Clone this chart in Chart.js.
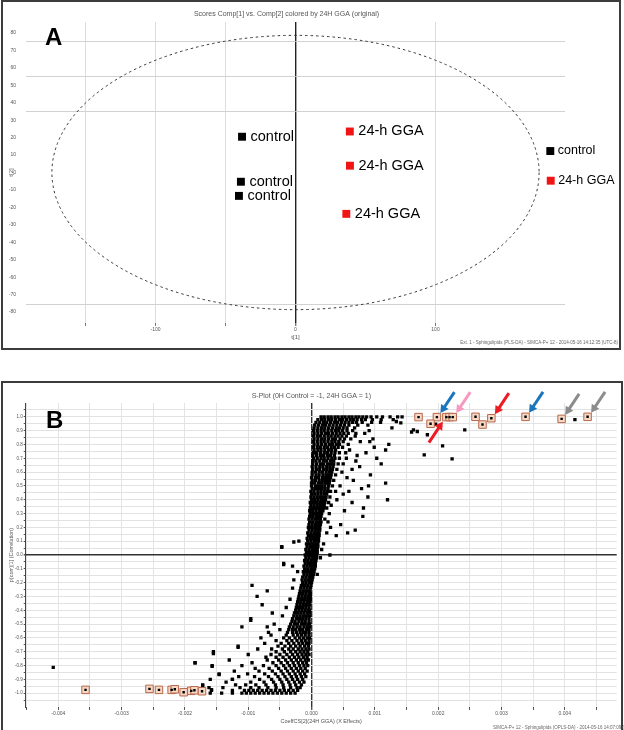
<!DOCTYPE html>
<html><head><meta charset="utf-8">
<script src="https://cdn.jsdelivr.net/npm/chart.js@4.4.1/dist/chart.umd.min.js"></script>
<style>
html,body{margin:0;padding:0;background:#fff;width:624px;height:730px;overflow:hidden;position:relative;}
.box{position:absolute;border:2px solid #3c3c3c;box-sizing:border-box;}
#boxA{left:1px;top:0px;width:620px;height:350px;}
#boxB{left:1px;top:381px;width:622px;height:370px;}
canvas{position:absolute;left:0;}
#cA{top:0;}
#cB{top:384px;}
</style></head>
<body>
<div class="box" id="boxA"></div>
<div class="box" id="boxB"></div>
<canvas id="cA" width="624" height="352"></canvas>
<canvas id="cB" width="624" height="346"></canvas>
<script>
// ---------------- Panel A data (scores plot) ----------------
const aTitle = 'Scores Comp[1] vs. Comp[2] colored by 24H GGA (original)';
const aGroups = ['control','control','control','control','24-h GGA','24-h GGA','24-h GGA','24-h GGA'];
const aT1 = [-38.2, -39.0, -40.4, 182.0, 38.8, 38.9, 36.3, 182.3];
const aT2 = [20.5, -5.3, -13.4, 12.3, 23.5, 3.9, -23.7, -4.7];
const aEllipseAxes = [174, 78.6];          // Hotelling T2 ellipse semi-axes (t[1], t[2])
const aRefLines = [75.5, 55.5, 35.5, -75.5];
const aXTicks = [-150, -100, -50, 0, 100];
const aXTickLabels = ['', '-100', '', '0', '100'];
const aYTicks = [-80,-70,-60,-50,-40,-30,-20,-10,0,10,20,30,40,50,60,70,80];
const aYTickLabels = ['-80','-70','-60','-50','-40','-30','-20','-10','0','10','20','30','40','50','60','70','80'];

// ---------------- Panel B data (S-plot), x in units of 1e-4 ----------------
const bTitle = 'S-Plot (0H Control = -1, 24H GGA = 1)';
const sPlotUpper = [
 [1.00,[1.5,2.0,2.6,3.1,3.7,4.2,4.8,5.3,5.9,6.4,7.0,7.5,8.1,8.7,9.4,10.3,11.2,12.4,13.6]],
 [0.98,[1.0,1.6,2.1,2.7,3.2,3.8,4.4,4.9,5.5,6.1,6.6,7.2,7.9,8.5,9.6,11.0,12.9]],
 [0.96,[0.7,1.3,1.9,2.4,3.0,3.6,4.1,4.7,5.3,5.9,6.5,7.1,8.0,9.5,10.9]],
 [0.94,[0.5,1.1,1.7,2.2,2.8,3.4,4.0,4.6,5.2,5.9,7.3,8.9]],
 [0.92,[0.4,1.0,1.6,2.1,2.7,3.3,3.9,4.4,5.0,5.6,6.8,12.7]],
 [0.90,[0.3,0.9,1.5,2.0,2.6,3.2,3.8,4.3,4.9,5.6,6.5,9.1]],
 [0.88,[0.4,1.0,1.6,2.2,2.7,3.3,3.9,4.5,5.1,5.8,7.0,8.4]],
 [0.86,[0.3,0.9,1.4,2.0,2.6,3.1,3.7,4.2,4.8,5.5,6.9]],
 [0.84,[0.4,1.0,1.6,2.1,2.7,3.3,3.8,4.5,5.2,6.2,9.7]],
 [0.82,[0.3,0.9,1.5,2.0,2.6,3.2,3.7,4.3,5.0,7.7,9.2]],
 [0.80,[0.4,1.0,1.6,2.2,2.8,3.3,3.9,4.4,5.8,12.2]],
 [0.78,[0.3,0.9,1.4,2.0,2.5,3.1,3.6,4.2,4.9,9.9]],
 [0.76,[0.4,1.0,1.5,2.1,2.7,3.2,3.8,6.0,11.7]],
 [0.74,[0.3,0.8,1.4,2.0,2.5,3.1,3.7,4.4,5.4,8.6]],
 [0.72,[0.2,0.8,1.4,1.9,2.5,3.0,3.6,7.2]],
 [0.70,[0.3,0.9,1.5,2.0,2.6,3.2,3.7,4.4,5.5,10.3]],
 [0.68,[0.2,0.7,1.3,1.9,2.4,3.0,3.5,7.0]],
 [0.66,[0.2,0.8,1.4,1.9,2.5,3.0,3.5,4.2,5.0,11.0]],
 [0.64,[0.1,0.7,1.3,1.8,2.4,2.9,3.4,7.6]],
 [0.62,[0.2,0.8,1.3,1.9,2.4,2.9,3.3,4.0,6.4]],
 [0.60,[0.1,0.6,1.2,1.7,2.3,2.8,3.2,4.8]],
 [0.58,[0.1,0.7,1.2,1.8,2.3,2.7,3.1,3.8,9.3]],
 [0.56,[0.0,0.6,1.1,1.7,2.2,2.7,3.0,5.6]],
 [0.54,[0.1,0.6,1.2,1.7,2.2,2.6,2.9,3.5,6.6]],
 [0.52,[0.0,0.5,1.1,1.6,2.1,2.5,2.8,11.7]],
 [0.50,[0.0,0.6,1.1,1.6,2.1,2.7,3.3,4.5,9.0]],
 [0.48,[0.1,0.6,1.1,1.6,2.1,2.6,7.9]],
 [0.46,[-0.1,0.4,1.0,1.5,2.0,2.5,3.0,3.8,5.9]],
 [0.44,[0.0,0.5,1.0,1.5,2.0,2.4,5.0]],
 [0.42,[-0.1,0.4,0.9,1.4,1.9,2.3,2.9,8.9]],
 [0.40,[0.0,0.5,1.0,1.5,1.9,2.2,4.0,12.0]],
 [0.38,[-0.2,0.3,0.8,1.3,1.7,2.1,2.7,6.4]],
 [0.36,[-0.1,0.4,0.9,1.4,1.8,2.0,3.1]],
 [0.34,[-0.2,0.3,0.8,1.2,1.6,1.9,2.4,8.2]],
 [0.32,[-0.3,0.2,0.7,1.2,1.5,1.8,5.2]],
 [0.30,[-0.2,0.3,0.8,1.2,1.6,2.8]],
 [0.28,[-0.3,0.2,0.7,1.1,1.5,8.1]],
 [0.26,[-0.4,0.1,0.6,1.0,1.4,2.1]],
 [0.24,[-0.3,0.2,0.7,1.1,1.5,2.6]],
 [0.22,[-0.4,0.1,0.6,1.0,1.4,4.6]],
 [0.20,[-0.5,0.0,0.5,0.9,1.3,3.0]],
 [0.18,[-0.4,0.1,0.6,1.0,1.3,6.9]],
 [0.16,[-0.6,-0.1,0.4,0.8,1.2,2.4,5.7]],
 [0.14,[-0.5,0.0,0.5,0.9,1.2,3.9]],
 [0.12,[-0.7,-0.2,0.3,0.7,1.1]],
 [0.10,[-0.6,-0.1,0.4,0.8,1.1,-2.0]],
 [0.08,[-0.8,-0.3,0.2,0.6,1.0,1.9]],
 [0.06,[-0.7,-0.2,0.3,0.7,1.0,-4.7]],
 [0.04,[-0.9,-0.4,0.1,0.5,0.9,1.6]],
 [0.02,[-0.8,-0.3,0.2,0.6,0.9]]
];
const sPlotLower = [
 [0.00,[-1.0,-0.5,0.0,0.4,0.8,2.9]],
 [-0.02,[-0.9,-0.4,0.1,0.5,0.8,1.4]],
 [-0.04,[-1.1,-0.6,-0.1,0.3,0.7]],
 [-0.06,[-1.0,-0.5,0.0,0.4,0.6,-4.4]],
 [-0.08,[-1.2,-0.7,-0.2,0.2,0.6,-3.0]],
 [-0.10,[-1.1,-0.6,-0.1,0.3,0.5]],
 [-0.12,[-1.3,-0.8,-0.3,0.1,0.4,-2.2]],
 [-0.14,[-1.2,-0.7,-0.2,0.2,0.3,0.9]],
 [-0.16,[-1.4,-0.9,-0.4,0.0,0.2]],
 [-0.18,[-1.5,-1.0,-0.5,-0.1,0.1,-2.8]],
 [-0.20,[-1.4,-0.9,-0.4,0.0]],
 [-0.22,[-1.6,-1.1,-0.6,-0.1,-9.4]],
 [-0.24,[-1.7,-1.2,-0.7,-0.2,-3.0]],
 [-0.26,[-1.8,-1.3,-0.8,-0.3,-7.0]],
 [-0.28,[-1.9,-1.4,-0.9,-0.4,-0.2]],
 [-0.30,[-2.0,-1.5,-1.0,-0.5,-0.2,-8.6]],
 [-0.32,[-2.1,-1.6,-1.1,-0.6,-0.2,-3.4]],
 [-0.34,[-2.2,-1.7,-1.2,-0.7,-0.3]],
 [-0.36,[-2.3,-1.8,-1.3,-0.8,-0.3,-7.8]],
 [-0.38,[-2.4,-1.9,-1.4,-0.9,-0.4,-4.0]],
 [-0.40,[-2.5,-2.0,-1.5,-1.0,-0.5,-0.3]],
 [-0.42,[-2.7,-2.2,-1.7,-1.2,-0.7,-0.3,-6.2]],
 [-0.44,[-2.8,-2.3,-1.8,-1.3,-0.8,-0.3,-4.6]],
 [-0.46,[-3.0,-2.4,-1.9,-1.4,-0.9,-0.4,-9.6]],
 [-0.48,[-3.1,-2.6,-2.0,-1.5,-1.0,-0.4]],
 [-0.50,[-3.3,-2.7,-2.2,-1.6,-1.1,-0.6,-0.3,-5.9]],
 [-0.52,[-3.5,-2.9,-2.3,-1.8,-1.2,-0.7,-0.3,-7.0,-11.0]],
 [-0.54,[-3.6,-3.0,-2.5,-1.9,-1.4,-0.8,-0.4,-5.0]],
 [-0.56,[-3.8,-3.0,-2.4,-1.8,-1.3,-0.9,-0.4,-6.8]],
 [-0.58,[-4.0,-2.9,-2.2,-1.6,-1.0,-0.4,-6.4]],
 [-0.60,[-4.4,-3.5,-2.6,-1.9,-1.3,-0.7,-0.3,-8.0]],
 [-0.62,[-3.9,-3.1,-2.3,-1.6,-1.0,-0.4,-5.6]],
 [-0.64,[-4.8,-3.6,-2.8,-2.0,-1.4,-0.8,-0.4,-7.4]],
 [-0.66,[-5.3,-4.2,-3.3,-2.5,-1.8,-1.1,-0.5,-11.6]],
 [-0.68,[-4.6,-3.6,-2.9,-2.1,-1.5,-0.9,-0.4,-8.5,-6.3]],
 [-0.70,[-5.6,-4.3,-3.3,-2.5,-1.8,-1.2,-0.6,-15.5]],
 [-0.72,[-6.4,-5.0,-3.9,-3.0,-2.2,-1.5,-0.9,-0.4,-10.0]],
 [-0.74,[-5.6,-4.5,-3.5,-2.7,-2.0,-1.3,-0.7,-7.2]],
 [-0.76,[-7.0,-5.2,-4.1,-3.2,-2.4,-1.7,-1.0,-0.5,-13.0]],
 [-0.78,[-6.1,-4.8,-3.8,-2.9,-2.1,-1.4,-0.8,-9.4,-18.4]],
 [-0.80,[-7.6,-5.6,-4.4,-3.5,-2.7,-1.9,-1.2,-0.6,-11.0,-15.7]],
 [-0.82,[-6.7,-5.2,-4.1,-3.2,-2.4,-1.7,-1.0,-8.9]],
 [-0.84,[-8.3,-6.2,-4.8,-3.8,-2.9,-2.1,-1.4,-0.7,-12.2]],
 [-0.86,[-7.4,-5.7,-4.5,-3.5,-2.6,-1.8,-1.1,-10.1,-14.6]],
 [-0.88,[-9.0,-6.8,-5.3,-4.2,-3.2,-2.4,-1.6,-0.9,-11.5]],
 [-0.90,[-8.2,-6.3,-5.0,-3.9,-3.0,-2.2,-1.4,-12.5,-16.0]],
 [-0.92,[-9.6,-7.5,-6.0,-4.7,-3.6,-2.7,-1.9,-1.2,-13.5]],
 [-0.94,[-10.4,-8.8,-7.2,-5.7,-4.5,-3.4,-2.5,-1.6,-12.0,-17.2]],
 [-0.96,[-11.3,-9.6,-8.3,-6.9,-5.6,-4.4,-3.3,-2.3,-1.8,-14.0,-16.2]],
 [-0.98,[-10.6,-9.9,-9.2,-8.5,-7.8,-7.1,-6.4,-5.7,-5.0,-4.3,-3.6,-2.9,-2.2,-12.5,-15.8,-17.5]],
 [-1.00,[-11.0,-10.3,-9.6,-8.9,-8.2,-7.5,-6.8,-6.1,-5.4,-4.7,-4.0,-3.3,-2.6,-12.5,-14.2,-16.0]]
];
const sPlotOutliers = [[16.1,0.906],[16.7,0.894],[17.8,0.725],[20.7,0.79],[22.2,0.696],[24.2,0.906],
 [19.6,0.947],[13.4,0.966],[14.1,0.956],[15.8,0.89],[18.3,0.87],[41.6,0.98],[14.3,1.0],
 [-40.8,-0.813],[-4.7,0.055],[-2.8,0.094],[-4.4,-0.07],[-9.6,-0.473],[-11.6,-0.668],[-15.5,-0.714],
 [-18.4,-0.78],[-15.7,-0.805],[-14.6,-0.866],[-12.5,-0.9],[-17.2,-0.943],[-15.8,-0.974]];
const sPlotMarked = [[16.9,0.998],[19.8,0.998],[18.8,0.95],[21.3,0.998],[21.8,0.998],[22.3,0.998],
 [25.9,1.0],[27.0,0.944],[28.4,0.99],[33.8,1.0],[39.5,0.985],[43.6,1.0],
 [-35.7,-0.976],[-25.6,-0.969],[-24.1,-0.976],[-22.1,-0.976],[-21.6,-0.972],[-20.2,-0.993],
 [-19.0,-0.983],[-18.5,-0.979],[-17.3,-0.986]];
const arrowTargets = [[19.8,0.998],[22.3,0.998],[21.3,0.998],[28.4,0.99],[33.8,1.0],[39.5,0.985],[43.6,1.0]];
const arrowColors = ['#1b75bc','#f49ac2','#ed1c24','#ed1c24','#1b75bc','#8c8c8c','#8c8c8c'];
const arrowFromBelow = [false,false,true,false,false,false,false];
const bXTicks = [-45,-40,-35,-30,-25,-20,-15,-10,-5,0,5,10,15,20,25,30,35,40,45];
const bXTickLabels = ['-0.004','-0.003','-0.002','-0.001','0.000','0.001','0.002','0.003','0.004'];
const bYTicks = [-1.05,-1,-0.95,-0.9,-0.85,-0.8,-0.75,-0.7,-0.65,-0.6,-0.55,-0.5,-0.45,-0.4,-0.35,-0.3,-0.25,-0.2,-0.15,-0.1,-0.05,0,
 0.05,0.1,0.15,0.2,0.25,0.3,0.35,0.4,0.45,0.5,0.55,0.6,0.65,0.7,0.75,0.8,0.85,0.9,0.95,1,1.05];
const bYTickLabels = ['1.0','0.9','0.8','0.7','0.6','0.5','0.4','0.3','0.2','0.1','0.0','-0.1','-0.2','-0.3','-0.4','-0.5','-0.6','-0.7','-0.8','-0.9','-1.0'];

const F = "'Liberation Sans', Arial, sans-serif";

// ---------------- Chart A ----------------
const ptsOf = g => aGroups.map((gg,i)=>gg===g?{x:aT1[i],y:aT2[i],label:gg}:null).filter(p=>p);
const panelAPlugin = {
  id:'panelA',
  beforeDatasetsDraw(chart){
    const {ctx, chartArea:ca, scales:{x,y}} = chart;
    ctx.save();
    ctx.strokeStyle = '#d2d2d2'; ctx.lineWidth = 1;
    aRefLines.forEach(v=>{ const py = Math.round(y.getPixelForValue(v))+0.5;
      ctx.beginPath(); ctx.moveTo(ca.left,py); ctx.lineTo(ca.right,py); ctx.stroke(); });
    const cx = x.getPixelForValue(0), cy = y.getPixelForValue(0);
    const rx = x.getPixelForValue(aEllipseAxes[0]) - cx, ry = cy - y.getPixelForValue(aEllipseAxes[1]);
    ctx.strokeStyle = '#333'; ctx.setLineDash([2.5,3]); ctx.lineWidth = 1;
    ctx.beginPath(); ctx.ellipse(cx, cy, rx, ry, 0, 0, Math.PI*2); ctx.stroke();
    ctx.restore();
  },
  afterDatasetsDraw(chart){
    const {ctx} = chart;
    ctx.save(); ctx.fillStyle = '#000'; ctx.textBaseline = 'middle'; ctx.textAlign='left';
    chart.data.datasets.forEach((ds,di)=>{
      chart.getDatasetMeta(di).data.forEach((el,i)=>{
        const p = ds.data[i];
        const outside = p.x > aEllipseAxes[0];
        ctx.font = (outside? '12.5px ' : '14.5px ') + F;
        ctx.fillText(p.label, el.x + (outside?7.5:8.5), el.y);
      });
    });
    ctx.font = 'bold 24px ' + F; ctx.textBaseline='alphabetic';
    ctx.fillText('A', 45, 45);
    ctx.font = '4.5px ' + F; ctx.fillStyle='#666'; ctx.textAlign='right';
    ctx.fillText('Ext. 1 - Sphingolipids (PLS-DA) - SIMCA-P+ 12 - 2014-05-16 14:12:35 (UTC-8)', 618, 344);
    ctx.restore();
  }
};
new Chart(document.getElementById('cA'), {
  type:'scatter',
  data:{datasets:[
    {label:'control', data:ptsOf('control'), pointStyle:'rect', radius:5.6, backgroundColor:'#000', borderWidth:0},
    {label:'24-h GGA', data:ptsOf('24-h GGA'), pointStyle:'rect', radius:5.6, backgroundColor:'#f01414', borderWidth:0}
  ]},
  options:{
    responsive:false, animation:false, events:[],
    layout:{padding:{left:8,right:59,top:0,bottom:7}},
    plugins:{legend:{display:false}, tooltip:{enabled:false},
      title:{display:true, text:aTitle, color:'#555', font:{family:F,size:7,weight:'normal'}, padding:{top:10,bottom:3.6}}},
    scales:{
      x:{type:'linear', min:-192.5, max:192.5,
        afterBuildTicks:s=>{ s.ticks = aXTicks.map(v=>({value:v})); },
        afterFit:s=>{ s.height = 22; },
        ticks:{autoSkip:false, maxRotation:0, padding:1, color:'#555', font:{family:F,size:5}, callback:(v,i)=>aXTickLabels[i]},
        grid:{color:c=>c.tick && c.tick.value===0 ? '#222' : '#dcdcdc', lineWidth:c=>c.tick && c.tick.value===0 ? 1.4 : 1, tickLength:3, tickColor:'#777'},
        border:{display:false},
        title:{display:true, text:'t[1]', color:'#555', font:{family:F,size:6}, padding:{top:0,bottom:4}}
      },
      y:{type:'linear', min:-86.25, max:86.25,
        afterBuildTicks:s=>{ s.ticks = aYTicks.map(v=>({value:v})); },
        afterFit:s=>{ s.width = 18; },
        ticks:{autoSkip:false, padding:2, color:'#555', font:{family:F,size:5}, callback:(v,i)=>aYTickLabels[i]},
        grid:{display:false}, border:{display:false},
        title:{display:true, text:'t[2]', color:'#555', font:{family:F,size:6}, padding:{top:0,bottom:0}}
      }
    }
  },
  plugins:[panelAPlugin]
});

// ---------------- Chart B ----------------
const sMain = [];
sPlotUpper.concat(sPlotLower).forEach(r=>r[1].forEach(v=>sMain.push({x:v,y:r[0]})));
sPlotOutliers.forEach(p=>sMain.push({x:p[0],y:p[1]}));
const sMarked = sPlotMarked.map(p=>({x:p[0],y:p[1]}));
const panelBPlugin = {
  id:'panelB',
  afterDatasetsDraw(chart){
    const {ctx, scales:{x,y}} = chart;
    ctx.save();
    arrowTargets.forEach((t,i)=>{
      const px = x.getPixelForValue(t[0]), py = y.getPixelForValue(t[1]);
      let tipX, tipY, tailX, tailY;
      if (arrowFromBelow[i]) { tipX = px-3.5; tipY = py+4.5; tailX = tipX-14; tailY = tipY+21; }
      else { tipX = px+3.5; tipY = py-4; tailX = tipX+14; tailY = tipY-21; }
      const dx = tipX-tailX, dy = tipY-tailY, L = Math.hypot(dx,dy), ux = dx/L, uy = dy/L;
      const bx = tipX-ux*8, by = tipY-uy*8, nx = -uy, ny = ux;
      ctx.strokeStyle = arrowColors[i]; ctx.fillStyle = arrowColors[i]; ctx.lineWidth = 3;
      ctx.beginPath(); ctx.moveTo(tailX,tailY); ctx.lineTo(bx+ux,by+uy); ctx.stroke();
      ctx.beginPath(); ctx.moveTo(tipX,tipY); ctx.lineTo(bx+nx*4.5,by+ny*4.5); ctx.lineTo(bx-nx*4.5,by-ny*4.5); ctx.closePath(); ctx.fill();
    });
    ctx.fillStyle = '#000'; ctx.font = 'bold 24px ' + F; ctx.textAlign='left'; ctx.textBaseline='alphabetic';
    ctx.fillText('B', 46, 44);
    ctx.font = '4.5px ' + F; ctx.fillStyle='#666';
    ctx.fillText('SIMCA-P+ 12 - Sphingolipids (OPLS-DA) - 2014-05-16 14:07:09 (UTC-8) - Ext. 1', 493, 345);
    ctx.restore();
  }
};
new Chart(document.getElementById('cB'), {
  type:'scatter',
  data:{datasets:[
    {label:'marked-inner', data:sMarked, pointStyle:'rect', radius:1.7, backgroundColor:'#000', borderWidth:0, order:0},
    {label:'marked', data:sMarked, pointStyle:'rect', radius:5.3, backgroundColor:'#f6d8c6', borderColor:'#b8674a', borderWidth:1, order:1},
    {label:'variables', data:sMain, pointStyle:'rect', radius:2.35, backgroundColor:'#000', borderWidth:0, order:2}
  ]},
  options:{
    responsive:false, animation:false, events:[],
    layout:{padding:{left:6,right:7.3,top:0,bottom:0}},
    plugins:{legend:{display:false}, tooltip:{enabled:false},
      title:{display:true, text:bTitle, color:'#555', font:{family:F,size:7,weight:'normal'}, padding:{top:7.8,bottom:2.8}}},
    scales:{
      x:{type:'linear', min:-45.15, max:48.2,
        afterBuildTicks:s=>{ s.ticks = bXTicks.map(v=>({value:v})); },
        afterFit:s=>{ s.height = 23; },
        ticks:{autoSkip:false, maxRotation:0, padding:0.5, color:'#555', font:{family:F,size:5},
          callback:v=>{ const k=Math.round(v); return (k%10===0 && Math.abs(k)<=40) ? bXTickLabels[(k+40)/10] : ''; }},
        grid:{color:c=>c.tick && c.tick.value===0 ? '#333' : '#e4e4e4', lineWidth:c=>c.tick && c.tick.value===0 ? 1.4 : 1, tickLength:3, tickColor:'#555'},
        border:{display:false},
        title:{display:true, text:'CoeffCS[2](24H GGA) (X Effects)', color:'#555', font:{family:F,size:5.5}, padding:{top:0,bottom:5}}
      },
      y:{type:'linear', min:-1.1, max:1.1,
        afterBuildTicks:s=>{ s.ticks = bYTicks.map(v=>({value:v})); },
        afterFit:s=>{ s.width = 19.7; },
        ticks:{autoSkip:false, padding:1, color:'#555', font:{family:F,size:4.5},
          callback:v=>{ const k=Math.round(v*100); return (k%10===0 && Math.abs(k)<=100) ? bYTickLabels[(100-k)/10] : ''; }},
        grid:{color:c=>c.tick && Math.abs(c.tick.value)<1e-9 ? '#333' : '#e2e2e2', lineWidth:c=>c.tick && Math.abs(c.tick.value)<1e-9 ? 1.4 : 1, tickLength:2, tickColor:'#555'},
        border:{display:true, color:'#444', width:1},
        title:{display:true, text:'p(corr)[1] (Correlation)', color:'#555', font:{family:F,size:5.5}, padding:{top:2.4,bottom:0}}
      }
    }
  },
  plugins:[panelBPlugin]
});
</script>
</body></html>
